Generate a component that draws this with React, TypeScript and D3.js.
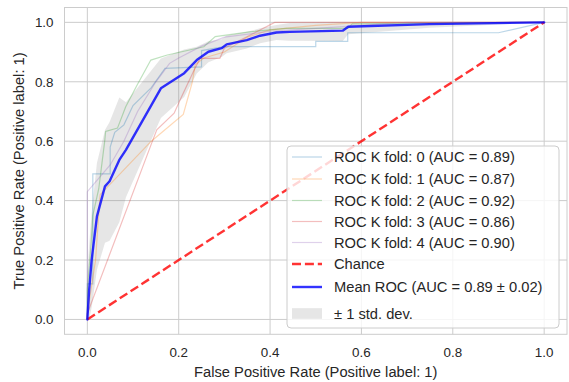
import React from "react";
import * as d3 from "d3";

// ---------- data ----------
const fold0Fpr = [0, 0, 0.012, 0.012, 0.05, 0.05, 0.06, 0.08, 0.1, 0.14, 0.17, 0.25, 0.25, 0.3, 0.5, 0.5, 0.57, 0.57, 0.9, 1];
const fold0Tpr = [0, 0.12, 0.12, 0.49, 0.49, 0.58, 0.63, 0.655, 0.72, 0.78, 0.845, 0.85, 0.905, 0.918, 0.918, 0.936, 0.936, 0.965, 0.965, 1];
const fold1Fpr = [0, 0, 0.018, 0.022, 0.028, 0.14, 0.21, 0.23, 0.236, 0.255, 0.3, 0.35, 0.4, 0.5, 0.6, 1];
const fold1Tpr = [0, 0.02, 0.2, 0.29, 0.42, 0.6, 0.69, 0.8, 0.857, 0.88, 0.9, 0.95, 0.975, 0.99, 1, 1];
const fold2Fpr = [0, 0, 0.008, 0.012, 0.025, 0.038, 0.04, 0.066, 0.084, 0.109, 0.139, 0.175, 0.255, 0.28, 0.355, 0.435, 0.57, 0.58, 1];
const fold2Tpr = [0, 0.1, 0.25, 0.35, 0.44, 0.6, 0.633, 0.644, 0.716, 0.789, 0.873, 0.89, 0.918, 0.952, 0.968, 0.98, 0.98, 0.995, 1];
const fold3Fpr = [0, 0, 0.14, 0.152, 0.19, 0.205, 0.232, 0.247, 0.29, 0.3, 0.378, 0.41, 1];
const fold3Tpr = [0, 0.02, 0.59, 0.638, 0.694, 0.745, 0.834, 0.879, 0.879, 0.913, 0.974, 1, 1];
const fold4Fpr = [0, 0, 0.05, 0.08, 0.11, 0.15, 0.16, 0.18, 0.2, 0.25, 0.3, 0.4, 0.5, 0.6, 0.7, 1];
const fold4Tpr = [0, 0.43, 0.52, 0.6, 0.7, 0.8, 0.82, 0.862, 0.88, 0.92, 0.95, 0.97, 0.98, 0.99, 1, 1];
const foldAuc = [0.89, 0.87, 0.92, 0.86, 0.9];

const meanFpr = [0, 0.004, 0.0094, 0.021, 0.0386, 0.0487, 0.07, 0.0845, 0.161, 0.212, 0.2395, 0.265, 0.294, 0.305, 0.349, 0.378, 0.414, 0.443, 0.559, 0.571, 0.749, 1];
const meanTpr = [0, 0.1, 0.2, 0.347, 0.448, 0.465, 0.537, 0.571, 0.778, 0.829, 0.873, 0.901, 0.913, 0.926, 0.94, 0.955, 0.966, 0.968, 0.972, 0.985, 0.994, 1];
const tprStd = [0.15, 0.15, 0.16, 0.18, 0.19, 0.2, 0.21, 0.16, 0.1, 0.08, 0.045, 0.035, 0.03, 0.03, 0.028, 0.025, 0.025, 0.03, 0.035, 0.025, 0.012, 0];
const meanAuc = 0.89;
const stdAuc = 0.02;

const chanceX = [0, 1];
const chanceY = [0, 1];
const tickValues = [0, 0.2, 0.4, 0.6, 0.8, 1.0];

// ---------- layout ----------
const W = 569;
const H = 382;
const L = 64.5, R = 567, T = 7.5, B = 334.3;
const FONT = "'Liberation Sans', Arial, 'DejaVu Sans', sans-serif";
const TXT = "#262626";
const GRID = "#cccccc";
const foldColors = ["#1f77b4", "#ff7f0e", "#2ca02c", "#d62728", "#9467bd"];

export default function App() {
  const x = d3.scaleLinear().domain([-0.05, 1.05]).range([L, R]);
  const y = d3.scaleLinear().domain([-0.05, 1.05]).range([B, T]);

  const folds = [
    [fold0Fpr, fold0Tpr],
    [fold1Fpr, fold1Tpr],
    [fold2Fpr, fold2Tpr],
    [fold3Fpr, fold3Tpr],
    [fold4Fpr, fold4Tpr],
  ];

  const line = d3
    .line<[number, number]>()
    .x((d) => x(d[0]))
    .y((d) => y(d[1]));

  const band = d3
    .area<number>()
    .x((_, i) => x(meanFpr[i]))
    .y0((_, i) => y(Math.max(meanTpr[i] - tprStd[i], 0)))
    .y1((_, i) => y(Math.min(meanTpr[i] + tprStd[i], 1)));

  const zip = (a: number[], b: number[]) => a.map((v, i) => [v, b[i]] as [number, number]);

  const legendRows = [
    ...foldAuc.map((a, i) => ({
      label: `ROC K fold: ${i} (AUC = ${a.toFixed(2)})`,
      kind: "fold",
      color: foldColors[i],
    })),
    { label: "Chance", kind: "chance", color: "red" },
    { label: `Mean ROC (AUC = ${meanAuc.toFixed(2)} \u00b1 ${stdAuc.toFixed(2)})`, kind: "mean", color: "blue" },
    { label: "\u00b1 1 std. dev.", kind: "std", color: "grey" },
  ];
  const rowY = [157, 179, 200.5, 221.5, 242.5, 264, 287, 313.5];

  return (
    <svg
      width={W}
      height={H}
      viewBox={`0 0 ${W} ${H}`}
      style={{ position: "absolute", left: 0, top: 0, background: "#fff" }}
      fontFamily={FONT}
    >
      <rect x={0} y={0} width={W} height={H} fill="#fff" />
      {/* grid */}
      {tickValues.map((t) => (
        <g key={"g" + t}>
          <line x1={x(t)} x2={x(t)} y1={T} y2={B} stroke={GRID} strokeWidth={1} />
          <line x1={L} x2={R} y1={y(t)} y2={y(t)} stroke={GRID} strokeWidth={1} />
        </g>
      ))}
      {/* std band */}
      <path d={band(meanFpr) || ""} fill="grey" fillOpacity={0.2} stroke="none" />
      {/* folds */}
      {folds.map(([f, t], i) => (
        <path
          key={"f" + i}
          d={line(zip(f, t)) || ""}
          fill="none"
          stroke={foldColors[i]}
          strokeOpacity={0.3}
          strokeWidth={1.2}
        />
      ))}
      {/* chance */}
      <path
        d={line(zip(chanceX, chanceY)) || ""}
        fill="none"
        stroke="red"
        strokeOpacity={0.8}
        strokeWidth={2.4}
        strokeDasharray="9,3.9"
      />
      {/* mean */}
      <path
        d={line(zip(meanFpr, meanTpr)) || ""}
        fill="none"
        stroke="blue"
        strokeOpacity={0.8}
        strokeWidth={2.4}
        strokeLinejoin="round"
        strokeLinecap="round"
      />
      {/* spines */}
      <rect x={L} y={T} width={R - L} height={B - T} fill="none" stroke={GRID} strokeWidth={1} />
      {/* tick labels */}
      {tickValues.map((t) => (
        <text key={"xt" + t} x={x(t)} y={357} textAnchor="middle" fontSize={13.4} fill={TXT}>
          {t.toFixed(1)}
        </text>
      ))}
      {tickValues.map((t) => (
        <text key={"yt" + t} x={53.5} y={y(t) + 4.8} textAnchor="end" fontSize={13.4} fill={TXT}>
          {t.toFixed(1)}
        </text>
      ))}
      {/* axis labels */}
      <text x={(L + R) / 2} y={377} textAnchor="middle" fontSize={14.7} fill={TXT}>
        False Positive Rate (Positive label: 1)
      </text>
      <text
        transform={`translate(23.5, ${(T + B) / 2}) rotate(-90)`}
        textAnchor="middle"
        fontSize={14.7}
        fill={TXT}
      >
        True Positive Rate (Positive label: 1)
      </text>
      {/* legend */}
      <rect x={287} y={146} width={272} height={182} rx={4} fill="#fff" fillOpacity={0.8} stroke={GRID} strokeWidth={1} />
      {legendRows.map((r, i) => {
        const cy = rowY[i];
        let handle;
        if (r.kind === "fold") {
          handle = <line x1={292} x2={322} y1={cy} y2={cy} stroke={r.color} strokeOpacity={0.3} strokeWidth={1.2} />;
        } else if (r.kind === "chance") {
          handle = <line x1={292} x2={322} y1={cy} y2={cy} stroke="red" strokeOpacity={0.8} strokeWidth={2.4} strokeDasharray="9,3.9" />;
        } else if (r.kind === "mean") {
          handle = <line x1={292} x2={322} y1={cy} y2={cy} stroke="blue" strokeOpacity={0.8} strokeWidth={2.4} />;
        } else {
          handle = <rect x={292} y={cy - 5.3} width={30} height={10.6} fill="grey" fillOpacity={0.2} />;
        }
        return (
          <g key={"l" + i}>
            {handle}
            <text x={334} y={cy + 5.3} fontSize={14.7} fill={TXT}>
              {r.label}
            </text>
          </g>
        );
      })}
    </svg>
  );
}
